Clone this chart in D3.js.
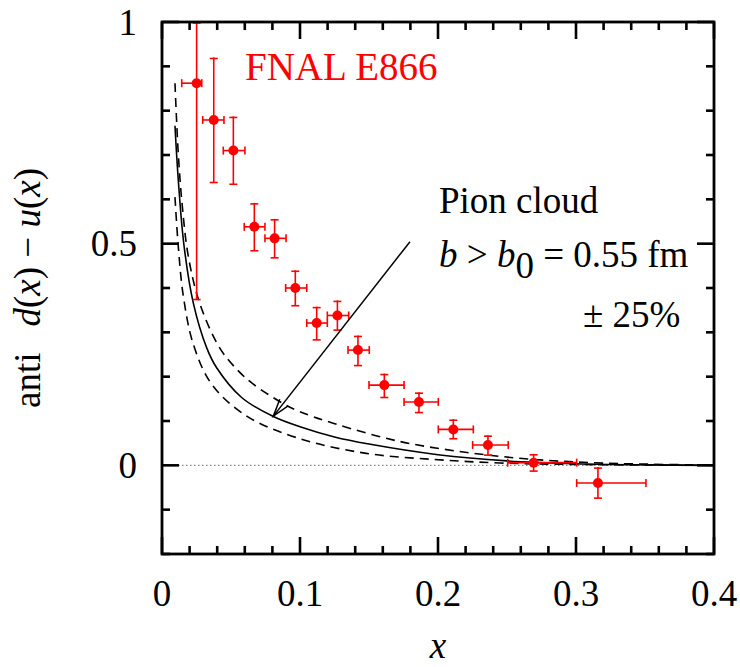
<!DOCTYPE html>
<html>
<head>
<meta charset="utf-8">
<script src="https://cdn.jsdelivr.net/npm/d3@7"></script>
<style>
  body { margin: 0; background: #fff; }
  svg { display: block; }
  .it { font-style: italic; }
</style>
</head>
<body>
<div class="visualization"></div>
<script>
// E866 data points (x, value, error bar ends)
const ptX   = [0.0251, 0.0375, 0.0517, 0.0669, 0.0816, 0.0966, 0.1121, 0.1271, 0.1420, 0.1611, 0.1862, 0.2111, 0.2362, 0.2693, 0.3159];
const ptY   = [0.862, 0.779, 0.710, 0.538, 0.512, 0.400, 0.321, 0.338, 0.260, 0.181, 0.143, 0.081, 0.046, 0.006, -0.040];
const ptYLo = [0.374, 0.638, 0.634, 0.484, 0.468, 0.360, 0.283, 0.305, 0.225, 0.153, 0.119, 0.060, 0.023, -0.013, -0.074];
const ptYHi = [1.000, 0.920, 0.787, 0.592, 0.556, 0.440, 0.358, 0.372, 0.293, 0.207, 0.165, 0.104, 0.068, 0.026, -0.004];
const ptXLo = [0.0143, 0.0295, 0.0444, 0.0596, 0.0746, 0.0896, 0.1049, 0.1198, 0.1348, 0.1500, 0.1754, 0.2002, 0.2251, 0.2505, 0.3005];
const ptXHi = [0.0288, 0.0449, 0.0601, 0.0746, 0.0899, 0.1049, 0.1198, 0.1353, 0.1502, 0.1754, 0.2002, 0.2256, 0.2509, 0.3005, 0.3507];

// pion cloud curve, central value
const cloudX = [0.0094, 0.0118, 0.0159, 0.0227, 0.0324, 0.0396, 0.0577, 0.0807, 0.100, 0.125, 0.150, 0.200, 0.250, 0.300, 0.350, 0.400];
const cloudY = [0.766, 0.644, 0.497, 0.366, 0.265, 0.220, 0.153, 0.110, 0.087, 0.064, 0.048, 0.024, 0.010, 0.0035, 0.001, 0.000];
// +25% / -25% bands
const upperX = [0.0094, 0.0118, 0.0147, 0.0191, 0.0275, 0.042, 0.0553, 0.0662, 0.088, 0.100, 0.124, 0.172, 0.221, 0.269, 0.320, 0.400];
const upperY = [0.862, 0.703, 0.585, 0.471, 0.364, 0.264, 0.213, 0.183, 0.139, 0.121, 0.095, 0.054, 0.029, 0.0134, 0.005, 0.0005];
const lowerX = [0.0094, 0.0118, 0.0154, 0.0227, 0.036, 0.0614, 0.100, 0.148, 0.197, 0.245, 0.300, 0.400];
const lowerY = [0.605, 0.494, 0.383, 0.273, 0.183, 0.111, 0.060, 0.027, 0.0132, 0.0053, 0.002, 0.000];

// arrow pointing at the central curve
const arrowFrom = [0.1797, 0.5045];
const arrowTo = [0.0807, 0.111];

const xTicks = [0, 0.1, 0.2, 0.3, 0.4];
const yTicks = [0, 0.5, 1];

const width = 740, height = 667;
const margin = { top: 22, right: 26, bottom: 113, left: 162 };
const red = "#ff0000";
const fs = 37;
const serif = "'Liberation Serif', 'Times New Roman', Times, 'DejaVu Serif', serif";

const svg = d3.select(".visualization").append("svg")
  .attr("width", width)
  .attr("height", height)
  .attr("font-family", serif)
  .style("font-family", serif);

const x = d3.scaleLinear().domain([0, 0.4]).range([margin.left, width - margin.right]);
const y = d3.scaleLinear().domain([-0.2, 1]).range([height - margin.bottom, margin.top]);

svg.append("defs").append("clipPath").attr("id", "plot-clip")
  .append("rect")
  .attr("x", x(0)).attr("y", y(1))
  .attr("width", x(0.4) - x(0)).attr("height", y(-0.2) - y(1));

const plot = svg.append("g").attr("clip-path", "url(#plot-clip)");

// zero line
plot.append("line")
  .attr("x1", x(0)).attr("x2", x(0.4))
  .attr("y1", y(0)).attr("y2", y(0))
  .attr("stroke", "#888")
  .attr("stroke-width", 1.3)
  .attr("stroke-dasharray", "1.5,2.5");

// curves
const line = d3.line()
  .x(d => x(d[0]))
  .y(d => y(d[1]))
  .curve(d3.curveCatmullRom.alpha(0.5));

plot.append("path")
  .datum(d3.zip(cloudX, cloudY))
  .attr("d", line)
  .attr("fill", "none")
  .attr("stroke", "#000")
  .attr("stroke-width", 1.6);

[[upperX, upperY], [lowerX, lowerY]].forEach(([cx, cy]) => {
  plot.append("path")
    .datum(d3.zip(cx, cy))
    .attr("d", line)
    .attr("fill", "none")
    .attr("stroke", "#000")
    .attr("stroke-width", 1.6)
    .attr("stroke-dasharray", "9,6");
});

// arrow
const ax1 = x(arrowFrom[0]), ay1 = y(arrowFrom[1]);
const ax2 = x(arrowTo[0]), ay2 = y(arrowTo[1]);
const ang = Math.atan2(ay2 - ay1, ax2 - ax1);
const headLen = 18, headAng = 0.3;
svg.append("line")
  .attr("x1", ax1).attr("y1", ay1).attr("x2", ax2).attr("y2", ay2)
  .attr("stroke", "#000").attr("stroke-width", 1.5);
svg.append("path")
  .attr("d", `M${ax2 - headLen * Math.cos(ang - headAng)},${ay2 - headLen * Math.sin(ang - headAng)}` +
             `L${ax2},${ay2}` +
             `L${ax2 - headLen * Math.cos(ang + headAng)},${ay2 - headLen * Math.sin(ang + headAng)}`)
  .attr("fill", "none").attr("stroke", "#000").attr("stroke-width", 1.5);

// data points with error bars
const pts = ptX.map((d, i) => ({ x: d, y: ptY[i], ylo: ptYLo[i], yhi: ptYHi[i], xlo: ptXLo[i], xhi: ptXHi[i] }));
const cap = 4;
const g = plot.append("g")
  .attr("stroke", red)
  .attr("stroke-width", 1.6)
  .attr("fill", red);

const pg = g.selectAll(".pt").data(pts).enter().append("g").attr("class", "pt");
pg.append("line")
  .attr("x1", d => x(d.x)).attr("x2", d => x(d.x))
  .attr("y1", d => y(d.ylo)).attr("y2", d => y(d.yhi));
pg.append("line")
  .attr("x1", d => x(d.xlo)).attr("x2", d => x(d.xhi))
  .attr("y1", d => y(d.y)).attr("y2", d => y(d.y));
pg.append("line")
  .attr("x1", d => x(d.x) - cap).attr("x2", d => x(d.x) + cap)
  .attr("y1", d => y(d.ylo)).attr("y2", d => y(d.ylo));
pg.append("line")
  .attr("x1", d => x(d.x) - cap).attr("x2", d => x(d.x) + cap)
  .attr("y1", d => y(d.yhi) + 1).attr("y2", d => y(d.yhi) + 1);
pg.append("line")
  .attr("x1", d => x(d.xlo)).attr("x2", d => x(d.xlo))
  .attr("y1", d => y(d.y) - cap).attr("y2", d => y(d.y) + cap);
pg.append("line")
  .attr("x1", d => x(d.xhi)).attr("x2", d => x(d.xhi))
  .attr("y1", d => y(d.y) - cap).attr("y2", d => y(d.y) + cap);
pg.append("circle")
  .attr("cx", d => x(d.x)).attr("cy", d => y(d.y))
  .attr("r", 5).attr("stroke", "none");

// axes: ticks inward on all four sides
const major = 17, minor = 8;
const axisG = svg.append("g").attr("stroke", "#000").attr("stroke-width", 2.6);
const xMinor = d3.range(0, 0.4001, 0.02);
const yMinor = d3.range(-0.2, 1.0001, 0.1);
const isMajorX = v => Math.abs(v * 10 - Math.round(v * 10)) < 1e-6;
const isMajorY = v => Math.abs(v * 2 - Math.round(v * 2)) < 1e-6;

axisG.selectAll(".xt-b").data(xMinor).enter().append("line")
  .attr("x1", d => x(d)).attr("x2", d => x(d))
  .attr("y1", y(-0.2)).attr("y2", d => y(-0.2) - (isMajorX(d) ? major : minor));
axisG.selectAll(".xt-t").data(xMinor).enter().append("line")
  .attr("x1", d => x(d)).attr("x2", d => x(d))
  .attr("y1", y(1)).attr("y2", d => y(1) + (isMajorX(d) ? major : minor));
axisG.selectAll(".yt-l").data(yMinor).enter().append("line")
  .attr("y1", d => y(d)).attr("y2", d => y(d))
  .attr("x1", x(0)).attr("x2", d => x(0) + (isMajorY(d) ? major : minor));
axisG.selectAll(".yt-r").data(yMinor).enter().append("line")
  .attr("y1", d => y(d)).attr("y2", d => y(d))
  .attr("x1", x(0.4)).attr("x2", d => x(0.4) - (isMajorY(d) ? major : minor));

svg.append("rect")
  .attr("x", x(0)).attr("y", y(1))
  .attr("width", x(0.4) - x(0)).attr("height", y(-0.2) - y(1))
  .attr("fill", "none").attr("stroke", "#000").attr("stroke-width", 2.8);

// tick labels
svg.selectAll(".xl").data(xTicks).enter().append("text")
  .attr("x", d => x(d)).attr("y", y(-0.2) + 52)
  .attr("text-anchor", "middle").attr("font-size", fs)
  .text(d => d3.format("")(d));

svg.selectAll(".yl").data(yTicks).enter().append("text")
  .attr("x", x(0) - 25).attr("y", d => y(d) + 12.5)
  .attr("text-anchor", "end").attr("font-size", fs)
  .text(d => d3.format("")(d));

// axis titles
svg.append("text")
  .attr("x", (x(0) + x(0.4)) / 2).attr("y", 658)
  .attr("text-anchor", "middle").attr("font-size", fs)
  .attr("class", "it").text("x");

const yl = svg.append("text")
  .attr("transform", `translate(40, ${(y(1) + y(-0.2)) / 2}) rotate(-90)`)
  .attr("text-anchor", "middle").attr("font-size", fs)
  .attr("xml:space", "preserve");
yl.append("tspan").text("anti");
yl.append("tspan").attr("dx", 26).attr("class", "it").text("d");
yl.append("tspan").text("(");
yl.append("tspan").attr("class", "it").text("x");
yl.append("tspan").text(") \u2212 ");
yl.append("tspan").attr("class", "it").text("u");
yl.append("tspan").text("(");
yl.append("tspan").attr("class", "it").text("x");
yl.append("tspan").text(")");

// annotations
svg.append("text")
  .attr("x", 245).attr("y", 80)
  .attr("font-size", fs + 2).attr("fill", red)
  .text("FNAL E866");

svg.append("text")
  .attr("x", 439).attr("y", 213)
  .attr("font-size", fs)
  .text("Pion cloud");

const bt = svg.append("text")
  .attr("x", 439).attr("y", 267)
  .attr("font-size", fs)
  .attr("xml:space", "preserve");
bt.append("tspan").attr("class", "it").text("b");
bt.append("tspan").text(" > ");
bt.append("tspan").attr("class", "it").text("b");
bt.append("tspan").attr("dy", 11).text("0");
bt.append("tspan").attr("dy", -11).text(" = 0.55 fm");

svg.append("text")
  .attr("x", 583).attr("y", 327)
  .attr("font-size", fs)
  .attr("xml:space", "preserve")
  .text("\u00b1 25%");
</script>
</body>
</html>
